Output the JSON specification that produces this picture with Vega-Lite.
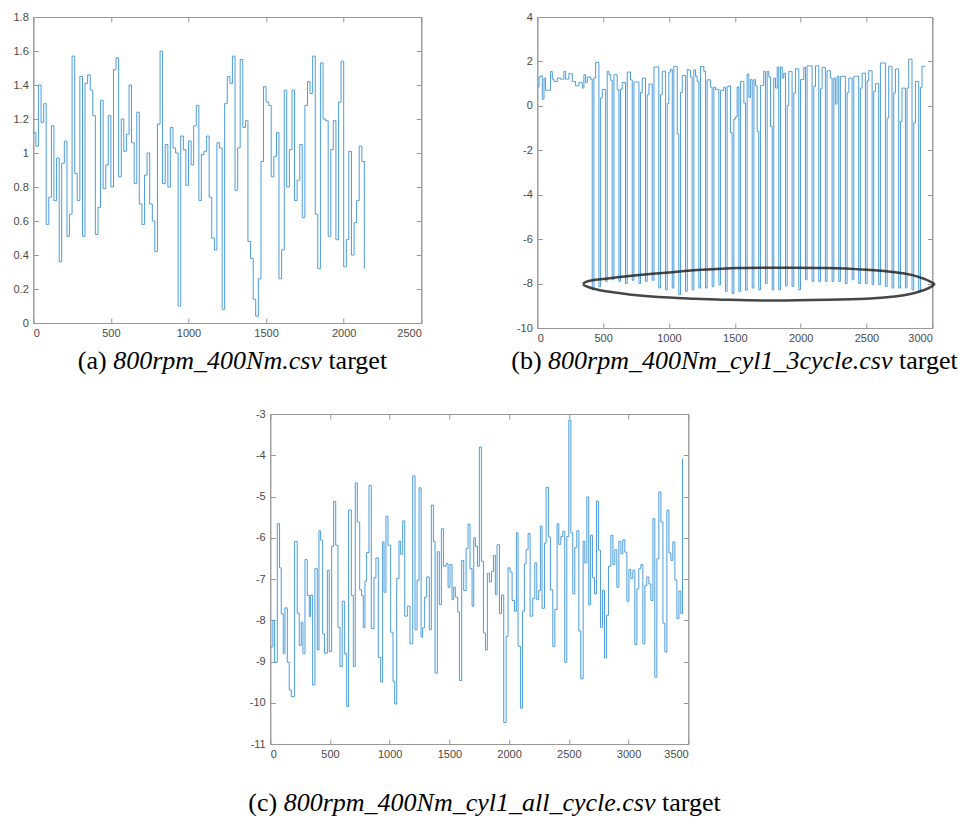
{
 "$schema": "https://vega.github.io/schema/vega-lite/v6.json",
 "background": "white",
 "padding": {"left": 12, "top": 10, "right": 0, "bottom": 0},
 "config": {
  "view": {"stroke": "#999999", "strokeWidth": 1},
  "axis": {"domainColor": "#999999", "tickColor": "#999999", "tickSize": -5, "labelFont": "Liberation Sans", "labelFontSize": 11, "labelColor": "#4a4a4a", "grid": false, "titleFont": "Liberation Serif", "titleFontSize": 26, "titleFontWeight": "normal", "titleColor": "#000000", "titleAngle": 0, "titleAlign": "left", "titleBaseline": "middle", "labelExpr": "toString(datum.value)"},
  "axisX": {"labelPadding": 9},
  "axisY": {"labelPadding": 10}
 },
 "spacing": 33,
 "center": true,
 "vconcat": [
  {
   "spacing": 88,
   "hconcat": [
    {
     "width": 388, "height": 306,
     "data": {"values": [
{"x":0,"y":1.12},{"x":17,"y":1.04},{"x":33,"y":1.40},{"x":50,"y":1.18},{"x":67,"y":1.29},{"x":83,"y":0.58},{"x":100,"y":0.74},{"x":117,"y":1.16},{"x":133,"y":0.72},{"x":150,"y":0.97},{"x":167,"y":0.36},{"x":183,"y":0.94},{"x":200,"y":1.07},{"x":217,"y":0.51},{"x":233,"y":0.64},{"x":250,"y":1.57},{"x":267,"y":0.88},{"x":283,"y":0.72},{"x":300,"y":1.45},{"x":317,"y":0.51},{"x":333,"y":1.41},{"x":350,"y":1.46},{"x":367,"y":1.37},{"x":383,"y":1.22},{"x":400,"y":0.52},{"x":417,"y":0.68},{"x":433,"y":1.31},{"x":450,"y":0.79},{"x":467,"y":0.93},{"x":483,"y":1.22},{"x":500,"y":0.80},{"x":517,"y":1.49},{"x":533,"y":1.56},{"x":550,"y":0.86},{"x":567,"y":1.20},{"x":583,"y":1.01},{"x":600,"y":1.11},{"x":617,"y":1.40},{"x":633,"y":1.06},{"x":650,"y":0.82},{"x":667,"y":1.24},{"x":683,"y":0.70},{"x":700,"y":0.58},{"x":717,"y":0.87},{"x":733,"y":1.00},{"x":750,"y":0.70},{"x":767,"y":0.60},{"x":783,"y":0.42},{"x":800,"y":1.17},{"x":817,"y":1.60},{"x":833,"y":0.82},{"x":850,"y":1.05},{"x":867,"y":0.80},{"x":883,"y":1.15},{"x":900,"y":1.03},{"x":917,"y":1.00},{"x":933,"y":0.10},{"x":950,"y":1.10},{"x":967,"y":1.02},{"x":983,"y":0.81},{"x":1000,"y":1.07},{"x":1017,"y":0.93},{"x":1033,"y":1.16},{"x":1050,"y":1.28},{"x":1067,"y":0.72},{"x":1083,"y":0.99},{"x":1100,"y":1.01},{"x":1117,"y":1.10},{"x":1133,"y":0.74},{"x":1150,"y":0.50},{"x":1167,"y":0.43},{"x":1183,"y":1.06},{"x":1200,"y":1.03},{"x":1217,"y":0.08},{"x":1233,"y":1.29},{"x":1250,"y":1.45},{"x":1267,"y":1.41},{"x":1283,"y":1.57},{"x":1300,"y":0.78},{"x":1317,"y":1.03},{"x":1333,"y":1.55},{"x":1350,"y":1.15},{"x":1367,"y":1.19},{"x":1383,"y":0.48},{"x":1400,"y":0.38},{"x":1417,"y":0.14},{"x":1433,"y":0.04},{"x":1450,"y":0.26},{"x":1467,"y":0.95},{"x":1483,"y":1.39},{"x":1500,"y":1.30},{"x":1517,"y":1.28},{"x":1533,"y":0.86},{"x":1550,"y":0.98},{"x":1567,"y":1.12},{"x":1583,"y":0.26},{"x":1600,"y":0.43},{"x":1617,"y":1.37},{"x":1633,"y":0.80},{"x":1650,"y":1.02},{"x":1667,"y":1.37},{"x":1683,"y":0.72},{"x":1700,"y":0.84},{"x":1717,"y":1.05},{"x":1733,"y":0.62},{"x":1750,"y":1.28},{"x":1767,"y":1.42},{"x":1783,"y":1.35},{"x":1800,"y":1.57},{"x":1817,"y":0.64},{"x":1833,"y":0.32},{"x":1850,"y":1.53},{"x":1867,"y":1.20},{"x":1883,"y":1.19},{"x":1900,"y":0.51},{"x":1917,"y":1.02},{"x":1933,"y":1.19},{"x":1950,"y":0.49},{"x":1967,"y":1.30},{"x":1983,"y":1.54},{"x":2000,"y":0.33},{"x":2017,"y":0.49},{"x":2033,"y":1.01},{"x":2050,"y":0.40},{"x":2067,"y":0.59},{"x":2083,"y":0.72},{"x":2100,"y":1.04},{"x":2117,"y":0.95},{"x":2133,"y":0.32}
     ]},
     "layer": [
      {"mark": {"type": "line", "interpolate": "step-after", "color": "#4d9ddb", "strokeWidth": 1},
       "encoding": {
        "x": {"field": "x", "type": "quantitative", "scale": {"domain": [0, 2500], "nice": false},
              "axis": {"values": [0,500,1000,1500,2000,2500], "title": "(a)", "titleX": 44, "titleY": 37}},
        "y": {"field": "y", "type": "quantitative", "scale": {"domain": [0, 1.8], "nice": false, "zero": false},
              "axis": {"values": [0,0.2,0.4,0.6,0.8,1,1.2,1.4,1.6,1.8], "title": "800rpm_400Nm.csv", "titleX": 79.4, "titleY": 343, "titleFontStyle": "italic"}}
       }},
      {"mark": {"type": "line", "opacity": 0},
       "encoding": {
        "x": {"field": "x", "type": "quantitative", "axis": {"orient": "top", "values": [0,500,1000,1500,2000,2500], "labels": false, "title": null}},
        "y": {"field": "y", "type": "quantitative", "axis": {"orient": "right", "values": [0,0.2,0.4,0.6,0.8,1,1.2,1.4,1.6,1.8], "labels": false, "title": "target", "titleX": -93.4, "titleY": 343}}
       }}
     ],
     "resolve": {"axis": {"x": "independent", "y": "independent"}}
    },
    {
     "width": 395, "height": 311,
     "layer": [
      {"data": {"values": [
{"x":0,"y":0.85},{"x":13,"y":1.3},{"x":25,"y":1.35},{"x":38,"y":0.3},{"x":51,"y":1.25},{"x":63,"y":0.7},{"x":76,"y":0.7},{"x":89,"y":0.7},{"x":101,"y":1.55},{"x":114,"y":1.2},{"x":127,"y":1.1},{"x":139,"y":1.1},{"x":152,"y":1.25},{"x":164,"y":1.25},{"x":177,"y":1.2},{"x":190,"y":1.2},{"x":202,"y":1.55},{"x":215,"y":1.2},{"x":228,"y":1.2},{"x":240,"y":1.45},{"x":253,"y":1.45},{"x":266,"y":1.1},{"x":278,"y":1.1},{"x":291,"y":0.9},{"x":304,"y":0.9},{"x":316,"y":1.05},{"x":329,"y":1.05},{"x":342,"y":0.8},{"x":354,"y":1.4},{"x":367,"y":1.05},{"x":380,"y":1.3},{"x":392,"y":1.3},{"x":405,"y":1.2},
{"x":417,"y":-8.28},{"x":430,"y":1.25},{"x":443,"y":1.95},{"x":455,"y":1.95},
{"x":468,"y":-8.13},{"x":481,"y":0.35},{"x":493,"y":0.74},{"x":506,"y":0.74},
{"x":519,"y":-7.9},{"x":531,"y":1.55},{"x":544,"y":1.4},{"x":557,"y":1.15},
{"x":569,"y":-7.83},{"x":582,"y":1.4},{"x":595,"y":1.4},{"x":607,"y":0.72},
{"x":620,"y":-7.9},{"x":632,"y":0.75},{"x":645,"y":1.05},{"x":658,"y":1.05},
{"x":670,"y":-8.0},{"x":683,"y":1.52},{"x":696,"y":1.52},{"x":708,"y":1.17},
{"x":721,"y":-7.85},{"x":734,"y":1.07},{"x":746,"y":1.07},{"x":759,"y":1.07},
{"x":772,"y":-8.0},{"x":784,"y":0.6},{"x":797,"y":1.25},{"x":810,"y":1.25},
{"x":822,"y":-7.9},{"x":835,"y":0.5},{"x":848,"y":0.98},{"x":860,"y":0.98},
{"x":873,"y":-7.85},{"x":886,"y":1.75},{"x":898,"y":1.75},{"x":911,"y":1.75},
{"x":923,"y":-8.2},{"x":936,"y":0.5},{"x":949,"y":1.56},{"x":961,"y":1.56},
{"x":974,"y":-8.28},{"x":987,"y":0.1},{"x":999,"y":1.52},{"x":1012,"y":1.64},
{"x":1025,"y":-8.2},{"x":1037,"y":1.77},{"x":1050,"y":1.77},{"x":1063,"y":-1.27},
{"x":1075,"y":-8.5},{"x":1088,"y":0.6},{"x":1101,"y":1.37},{"x":1113,"y":1.37},
{"x":1126,"y":-8.35},{"x":1139,"y":1.64},{"x":1151,"y":1.6},{"x":1164,"y":1.3},
{"x":1176,"y":-8.28},{"x":1189,"y":1.62},{"x":1202,"y":1.34},{"x":1214,"y":1.1},
{"x":1227,"y":-8.2},{"x":1240,"y":1.77},{"x":1252,"y":1.77},{"x":1265,"y":1.55},
{"x":1278,"y":-8.2},{"x":1290,"y":1.17},{"x":1303,"y":1.17},{"x":1316,"y":0.84},
{"x":1328,"y":-8.13},{"x":1341,"y":0.84},{"x":1354,"y":0.74},{"x":1366,"y":0.74},
{"x":1379,"y":-8.05},{"x":1392,"y":0.7},{"x":1404,"y":0.7},{"x":1417,"y":0.84},
{"x":1429,"y":-8.35},{"x":1442,"y":0.87},{"x":1455,"y":0.9},{"x":1467,"y":-1.2},
{"x":1480,"y":-8.45},{"x":1493,"y":-0.6},{"x":1505,"y":-0.5},{"x":1518,"y":0.85},
{"x":1531,"y":-8.35},{"x":1543,"y":1.1},{"x":1556,"y":1.1},{"x":1569,"y":0.13},
{"x":1581,"y":-8.3},{"x":1594,"y":1.43},{"x":1607,"y":0.38},{"x":1619,"y":1.18},
{"x":1632,"y":-8.2},{"x":1645,"y":1.18},{"x":1657,"y":0.9},{"x":1670,"y":-1.15},
{"x":1682,"y":-8.28},{"x":1695,"y":0.92},{"x":1708,"y":0.92},{"x":1720,"y":1.55},
{"x":1733,"y":-8.0},{"x":1746,"y":1.55},{"x":1758,"y":1.3},{"x":1771,"y":-0.92},
{"x":1784,"y":-8.28},{"x":1796,"y":1.25},{"x":1809,"y":0.8},{"x":1822,"y":1.75},
{"x":1834,"y":-8.28},{"x":1847,"y":1.75},{"x":1860,"y":1.25},{"x":1872,"y":1.47},
{"x":1885,"y":-8.1},{"x":1898,"y":0.02},{"x":1910,"y":1.55},{"x":1923,"y":1.55},
{"x":1935,"y":-8.13},{"x":1948,"y":0.58},{"x":1961,"y":1.67},{"x":1973,"y":1.67},
{"x":1986,"y":-8.28},{"x":1999,"y":1.18},{"x":2011,"y":1.18},{"x":2024,"y":1.73},
{"x":2037,"y":-7.83},{"x":2049,"y":1.8},{"x":2062,"y":1.8},{"x":2075,"y":1.8},
{"x":2087,"y":-7.9},{"x":2100,"y":0.88},{"x":2113,"y":1.8},{"x":2125,"y":1.8},
{"x":2138,"y":-7.9},{"x":2151,"y":0.77},{"x":2163,"y":1.73},{"x":2176,"y":1.73},
{"x":2188,"y":-7.9},{"x":2201,"y":1.58},{"x":2214,"y":1.58},{"x":2226,"y":1.25},
{"x":2239,"y":-7.9},{"x":2252,"y":1.25},{"x":2264,"y":0.08},{"x":2277,"y":1.33},
{"x":2290,"y":-7.9},{"x":2302,"y":1.33},{"x":2315,"y":1.33},{"x":2328,"y":1.33},
{"x":2340,"y":-8.0},{"x":2353,"y":0.6},{"x":2366,"y":1.25},{"x":2378,"y":1.25},
{"x":2391,"y":-7.83},{"x":2404,"y":1.33},{"x":2416,"y":1.33},{"x":2429,"y":1.33},
{"x":2441,"y":-8.0},{"x":2454,"y":0.8},{"x":2467,"y":1.47},{"x":2479,"y":1.47},
{"x":2492,"y":-8.0},{"x":2505,"y":1.13},{"x":2517,"y":1.58},{"x":2530,"y":1.58},
{"x":2543,"y":-8.05},{"x":2555,"y":0.65},{"x":2568,"y":1.0},{"x":2581,"y":1.0},
{"x":2593,"y":-8.05},{"x":2606,"y":1.93},{"x":2619,"y":1.93},{"x":2631,"y":1.93},
{"x":2644,"y":-8.13},{"x":2657,"y":-0.55},{"x":2669,"y":1.78},{"x":2682,"y":1.78},
{"x":2694,"y":-8.2},{"x":2707,"y":0.58},{"x":2720,"y":1.66},{"x":2732,"y":1.66},
{"x":2745,"y":-8.2},{"x":2758,"y":-0.7},{"x":2770,"y":0.8},{"x":2783,"y":0.8},
{"x":2796,"y":-8.2},{"x":2808,"y":0.8},{"x":2821,"y":2.1},{"x":2834,"y":2.1},
{"x":2846,"y":-8.28},{"x":2859,"y":-0.77},{"x":2872,"y":1.1},{"x":2884,"y":1.1},
{"x":2897,"y":-8.35},{"x":2910,"y":0.83},{"x":2922,"y":1.78},{"x":2935,"y":1.78},
{"x":2947,"y":1.78}
       ]},
       "mark": {"type": "line", "interpolate": "step-after", "color": "#4d9ddb", "strokeWidth": 1},
       "encoding": {
        "x": {"field": "x", "type": "quantitative", "scale": {"domain": [0, 3000], "nice": false},
              "axis": {"values": [0,500,1000,1500,2000,2500,3000], "title": "(b)", "titleX": -26.5, "titleY": 32}},
        "y": {"field": "y", "type": "quantitative", "scale": {"domain": [-10, 4], "nice": false, "zero": false},
              "axis": {"values": [-10,-8,-6,-4,-2,0,2,4], "title": "800rpm_400Nm_cyl1_3cycle.csv", "titleX": 10.3, "titleY": 343, "titleFontStyle": "italic"}}
       }},
      {"data": {"values": [
{"o":0,"x":347,"y":-8.02},{"o":1,"x":370,"y":-7.92},{"o":2,"x":420,"y":-7.85},{"o":3,"x":520,"y":-7.78},{"o":4,"x":716,"y":-7.65},{"o":5,"x":1000,"y":-7.5},{"o":6,"x":1250,"y":-7.38},{"o":7,"x":1527,"y":-7.3},{"o":8,"x":1800,"y":-7.29},{"o":9,"x":2209,"y":-7.3},{"o":10,"x":2500,"y":-7.38},{"o":11,"x":2716,"y":-7.49},{"o":12,"x":2850,"y":-7.62},{"o":13,"x":2944,"y":-7.8},{"o":14,"x":2990,"y":-7.93},{"o":15,"x":3015,"y":-8.03},{"o":16,"x":2990,"y":-8.15},{"o":17,"x":2944,"y":-8.28},{"o":18,"x":2850,"y":-8.45},{"o":19,"x":2716,"y":-8.58},{"o":20,"x":2500,"y":-8.68},{"o":21,"x":2209,"y":-8.73},{"o":22,"x":1800,"y":-8.76},{"o":23,"x":1449,"y":-8.73},{"o":24,"x":1200,"y":-8.68},{"o":25,"x":1000,"y":-8.63},{"o":26,"x":716,"y":-8.5},{"o":27,"x":520,"y":-8.35},{"o":28,"x":420,"y":-8.22},{"o":29,"x":370,"y":-8.12},{"o":30,"x":347,"y":-8.02}
       ]},
       "mark": {"type": "line", "interpolate": "cardinal", "color": "#262626", "strokeWidth": 2.5, "opacity": 0.85, "clip": false},
       "encoding": {
        "x": {"field": "x", "type": "quantitative", "axis": {"orient": "top", "values": [0,500,1000,1500,2000,2500,3000], "labels": false, "title": null}},
        "y": {"field": "y", "type": "quantitative", "axis": {"orient": "right", "values": [-10,-8,-6,-4,-2,0,2,4], "labels": false, "title": "target", "titleX": -33.8, "titleY": 343}},
        "order": {"field": "o", "type": "quantitative"}
       }}
     ],
     "resolve": {"axis": {"x": "independent", "y": "independent"}}
    }
   ]
  },
  {
   "width": 418, "height": 330,
   "data": {"values": [
{"x":0,"y":-8.65},{"x":22,"y":-8.0},{"x":36,"y":-9.02},{"x":59,"y":-5.66},{"x":78,"y":-6.73},{"x":92,"y":-7.84},{"x":109,"y":-8.81},{"x":123,"y":-7.7},{"x":143,"y":-9.02},{"x":159,"y":-9.69},{"x":176,"y":-9.85},{"x":204,"y":-6.09},{"x":226,"y":-7.83},{"x":243,"y":-8.61},{"x":260,"y":-8.05},{"x":274,"y":-8.81},{"x":291,"y":-6.53},{"x":310,"y":-7.4},{"x":327,"y":-7.91},{"x":338,"y":-7.39},{"x":355,"y":-9.57},{"x":374,"y":-6.75},{"x":394,"y":-8.72},{"x":408,"y":-5.83},{"x":422,"y":-6.06},{"x":439,"y":-8.33},{"x":455,"y":-8.8},{"x":478,"y":-6.79},{"x":494,"y":-8.76},{"x":514,"y":-6.21},{"x":531,"y":-5.12},{"x":548,"y":-6.18},{"x":567,"y":-8.17},{"x":584,"y":-9.12},{"x":603,"y":-7.54},{"x":623,"y":-8.81},{"x":640,"y":-10.09},{"x":656,"y":-5.33},{"x":679,"y":-7.4},{"x":696,"y":-9.12},{"x":712,"y":-4.67},{"x":729,"y":-5.62},{"x":749,"y":-7.26},{"x":765,"y":-7.4},{"x":779,"y":-8.18},{"x":793,"y":-7.05},{"x":807,"y":-6.36},{"x":827,"y":-4.73},{"x":846,"y":-8.2},{"x":869,"y":-6.97},{"x":885,"y":-6.49},{"x":905,"y":-8.9},{"x":925,"y":-9.5},{"x":941,"y":-6.1},{"x":953,"y":-7.32},{"x":969,"y":-5.48},{"x":986,"y":-6.18},{"x":1008,"y":-8.29},{"x":1028,"y":-9.48},{"x":1042,"y":-10.03},{"x":1059,"y":-6.99},{"x":1078,"y":-6.08},{"x":1092,"y":-6.4},{"x":1109,"y":-5.59},{"x":1126,"y":-7.9},{"x":1148,"y":-7.66},{"x":1170,"y":-8.57},{"x":1193,"y":-4.5},{"x":1212,"y":-8.23},{"x":1229,"y":-7.03},{"x":1246,"y":-4.79},{"x":1263,"y":-8.41},{"x":1276,"y":-8.18},{"x":1293,"y":-7.44},{"x":1310,"y":-6.95},{"x":1332,"y":-8.23},{"x":1349,"y":-5.21},{"x":1366,"y":-6.09},{"x":1380,"y":-9.28},{"x":1399,"y":-6.34},{"x":1416,"y":-7.62},{"x":1433,"y":-5.78},{"x":1450,"y":-6.69},{"x":1472,"y":-6.63},{"x":1489,"y":-7.2},{"x":1505,"y":-6.65},{"x":1522,"y":-7.5},{"x":1536,"y":-7.2},{"x":1550,"y":-7.44},{"x":1570,"y":-7.8},{"x":1584,"y":-9.46},{"x":1603,"y":-6.55},{"x":1620,"y":-7.28},{"x":1640,"y":-6.26},{"x":1656,"y":-5.67},{"x":1673,"y":-6.75},{"x":1690,"y":-7.66},{"x":1704,"y":-6.0},{"x":1718,"y":-6.21},{"x":1735,"y":-6.69},{"x":1751,"y":-3.8},{"x":1768,"y":-6.57},{"x":1785,"y":-8.31},{"x":1802,"y":-8.72},{"x":1818,"y":-6.86},{"x":1835,"y":-7.07},{"x":1852,"y":-6.82},{"x":1869,"y":-6.43},{"x":1885,"y":-7.38},{"x":1899,"y":-6.17},{"x":1919,"y":-7.84},{"x":1936,"y":-7.39},{"x":1955,"y":-10.48},{"x":1975,"y":-8.39},{"x":1991,"y":-6.73},{"x":2008,"y":-6.83},{"x":2025,"y":-7.52},{"x":2045,"y":-7.78},{"x":2061,"y":-5.88},{"x":2075,"y":-8.63},{"x":2095,"y":-10.13},{"x":2112,"y":-7.78},{"x":2128,"y":-6.63},{"x":2142,"y":-6.29},{"x":2159,"y":-5.9},{"x":2176,"y":-7.9},{"x":2198,"y":-7.47},{"x":2215,"y":-6.61},{"x":2232,"y":-7.5},{"x":2248,"y":-7.28},{"x":2262,"y":-5.72},{"x":2276,"y":-7.71},{"x":2296,"y":-6.13},{"x":2310,"y":-4.78},{"x":2329,"y":-5.98},{"x":2346,"y":-7.26},{"x":2366,"y":-8.64},{"x":2383,"y":-7.74},{"x":2402,"y":-5.66},{"x":2416,"y":-6.16},{"x":2433,"y":-5.97},{"x":2450,"y":-5.84},{"x":2466,"y":-9.02},{"x":2483,"y":-5.97},{"x":2500,"y":-3.15},{"x":2517,"y":-5.88},{"x":2533,"y":-7.36},{"x":2550,"y":-6.24},{"x":2567,"y":-5.83},{"x":2584,"y":-8.26},{"x":2600,"y":-9.42},{"x":2620,"y":-6.08},{"x":2634,"y":-6.61},{"x":2651,"y":-5.01},{"x":2667,"y":-7.63},{"x":2681,"y":-5.94},{"x":2698,"y":-6.97},{"x":2715,"y":-7.36},{"x":2732,"y":-5.11},{"x":2748,"y":-6.3},{"x":2765,"y":-8.17},{"x":2782,"y":-7.28},{"x":2799,"y":-8.91},{"x":2815,"y":-7.88},{"x":2832,"y":-6.69},{"x":2852,"y":-5.94},{"x":2869,"y":-6.65},{"x":2885,"y":-6.29},{"x":2902,"y":-7.2},{"x":2919,"y":-6.09},{"x":2936,"y":-6.39},{"x":2952,"y":-6.05},{"x":2969,"y":-6.35},{"x":2986,"y":-7.54},{"x":3003,"y":-6.77},{"x":3019,"y":-6.99},{"x":3036,"y":-6.79},{"x":3053,"y":-8.59},{"x":3070,"y":-7.24},{"x":3086,"y":-6.75},{"x":3103,"y":-6.65},{"x":3120,"y":-8.57},{"x":3137,"y":-7.16},{"x":3153,"y":-6.95},{"x":3170,"y":-7.12},{"x":3187,"y":-7.52},{"x":3204,"y":-5.54},{"x":3220,"y":-9.38},{"x":3237,"y":-6.51},{"x":3254,"y":-4.89},{"x":3271,"y":-5.62},{"x":3288,"y":-8.07},{"x":3304,"y":-8.77},{"x":3321,"y":-5.33},{"x":3338,"y":-6.37},{"x":3355,"y":-6.55},{"x":3371,"y":-6.1},{"x":3388,"y":-7.02},{"x":3405,"y":-7.96},{"x":3422,"y":-7.29},{"x":3438,"y":-7.84},{"x":3452,"y":-4.08}
   ]},
   "layer": [
    {"mark": {"type": "line", "interpolate": "step-after", "color": "#4d9ddb", "strokeWidth": 1},
     "encoding": {
      "x": {"field": "x", "type": "quantitative", "scale": {"domain": [0, 3500], "nice": false},
            "axis": {"values": [0,500,1000,1500,2000,2500,3000,3500], "title": "(c)", "titleX": -22.5, "titleY": 58}},
      "y": {"field": "y", "type": "quantitative", "scale": {"domain": [-11, -3], "nice": false, "zero": false},
            "axis": {"values": [-11,-10,-9,-8,-7,-6,-5,-4,-3], "title": "800rpm_400Nm_cyl1_all_cycle.csv", "titleX": 12.9, "titleY": 388, "titleFontStyle": "italic"}}
     }},
    {"mark": {"type": "line", "opacity": 0},
     "encoding": {
      "x": {"field": "x", "type": "quantitative", "axis": {"orient": "top", "values": [0,500,1000,1500,2000,2500,3000,3500], "labels": false, "title": null}},
      "y": {"field": "y", "type": "quantitative", "axis": {"orient": "right", "values": [-11,-10,-9,-8,-7,-6,-5,-4,-3], "labels": false, "title": "target", "titleX": -26.7, "titleY": 388}}
     }}
   ],
   "resolve": {"axis": {"x": "independent", "y": "independent"}}
  }
 ]
}
